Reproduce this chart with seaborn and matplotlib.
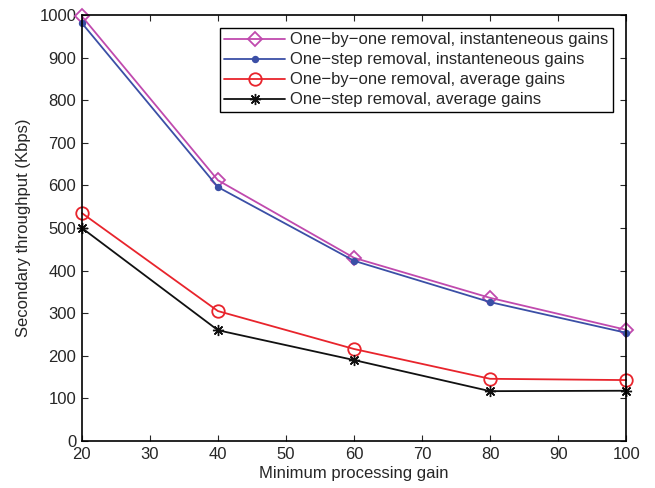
import numpy as np
import pandas as pd
import matplotlib
matplotlib.use("Agg")
import matplotlib.pyplot as plt
import seaborn as sns

# data
gain = [20, 40, 60, 80, 100]
obo_inst = [997, 612, 430, 336, 261]
os_inst = [981, 596, 423, 326, 254]
obo_avg = [535, 305, 216, 146, 143]
os_avg = [500, 260, 190, 117, 118]

labels = [
    "One\u2212by\u2212one removal, instanteneous gains",
    "One\u2212step removal, instanteneous gains",
    "One\u2212by\u2212one removal, average gains",
    "One\u2212step removal, average gains",
]
series = [obo_inst, os_inst, obo_avg, os_avg]

sns.set_style("ticks")
plt.rcParams["font.family"] = ["Liberation Sans", "DejaVu Sans"]
plt.rcParams["xtick.direction"] = "in"
plt.rcParams["ytick.direction"] = "in"

fig = plt.figure(figsize=(6.55, 4.88), dpi=100)
ax = fig.add_axes([0.125, 0.0963, 0.831, 0.873])

colors = ["#c04aae", "#3b4fa6", "#e8242c", "#111111"]
markers = ["D", "o", "o", (8, 2, 0)]
msizes = [7.5, 4, 9, 8]
faces = ["none", "#3b4fa6", "none", "#111111"]
mew = [1.3, 1.3, 1.3, 1.0]

for vals, lab, c, m, ms, fc, w in zip(series, labels, colors, markers, msizes, faces, mew):
    df = pd.DataFrame({"x": gain, "y": vals})
    sns.lineplot(data=df, x="x", y="y", ax=ax, color=c, marker=m,
                 markersize=ms, markerfacecolor=fc, markeredgecolor=c,
                 markeredgewidth=w, linewidth=1.3, label=lab, clip_on=False)

ax.set_xlim(20, 100)
ax.set_ylim(0, 1000)
ax.set_xticks(np.arange(20, 101, 10))
ax.set_yticks(np.arange(0, 1001, 100))
ax.tick_params(labelsize=12, length=4, width=0.8, top=True, right=True, pad=4)
for s in ax.spines.values():
    s.set_linewidth(1.2)
    s.set_color("black")
ax.set_xlabel("Minimum processing gain", fontsize=12, labelpad=3)
ax.set_ylabel("Secondary throughput (Kbps)", fontsize=12, labelpad=6)

leg = ax.legend(loc="upper right", fontsize=12, frameon=True, fancybox=False,
                edgecolor="black", framealpha=1, borderpad=0.25, labelspacing=0.3,
                handlelength=3.7, handletextpad=0.3, borderaxespad=0.8)
leg.get_frame().set_linewidth(1.0)

fig.savefig("out.png", dpi=100)
